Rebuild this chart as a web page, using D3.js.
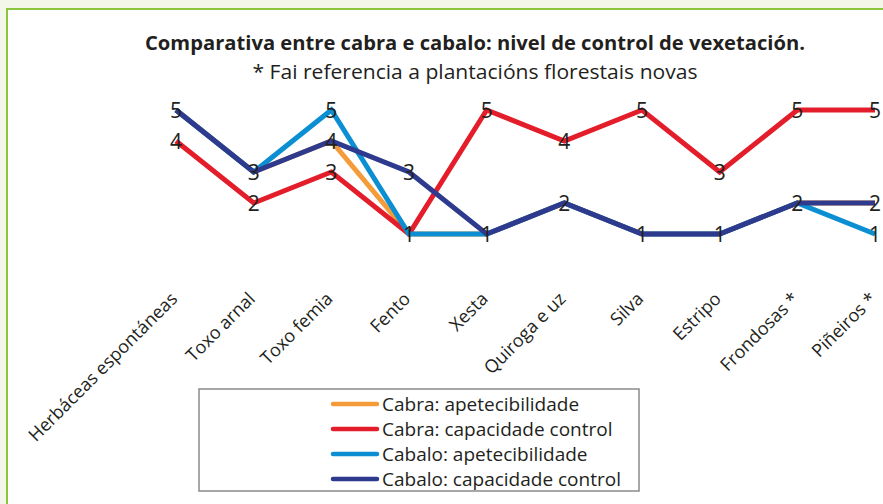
<!DOCTYPE html>
<html>
<head>
<meta charset="utf-8">
<script src="https://cdn.jsdelivr.net/npm/d3@7"></script>
<style>
  html, body { margin: 0; padding: 0; background: #f3f7e9; }
  svg { display: block; }
</style>
</head>
<body>
<svg id="chart" width="883" height="504"></svg>
<script>
// categorias
var categories = ['Herbáceas espontáneas', 'Toxo arnal', 'Toxo femia', 'Fento', 'Xesta',
    'Quiroga e uz', 'Silva', 'Estripo', 'Frondosas *', 'Piñeiros *'];

// series
var cabraApetec = [5, 3, 4, 1, 1, 2, 1, 1, 2, 2];
var cabraControl = [4, 2, 3, 1, 5, 4, 5, 3, 5, 5];
var cabaloApetec = [5, 3, 5, 1, 1, 2, 1, 1, 2, 1];
var cabaloControl = [5, 3, 4, 3, 1, 2, 1, 1, 2, 2];

var seriesNames = ['Cabra: apetecibilidade', 'Cabra: capacidade control',
    'Cabalo: apetecibilidade', 'Cabalo: capacidade control'];
var seriesColors = ['#f59c3a', '#e31d2a', '#0b8fd2', '#2e3a8d'];

var series = [cabraApetec, cabraControl, cabaloApetec, cabaloControl].map(function (v, i) {
    return { name: seriesNames[i], color: seriesColors[i], values: v };
});

var svg = d3.select('#chart');

// marco
svg.append('rect')
    .attr('x', 7)
    .attr('y', 9)
    .attr('width', 900)
    .attr('height', 520)
    .attr('fill', '#fff')
    .attr('stroke', '#8cc63f')
    .attr('stroke-width', 2);

// titulo (condensado co textLength)
svg.append('text')
    .attr('x', 475)
    .attr('y', 50)
    .attr('text-anchor', 'middle')
    .attr('font-family', 'Open Sans, sans-serif')
    .attr('font-weight', 'bold')
    .attr('font-size', 20)
    .attr('textLength', 660)
    .attr('lengthAdjust', 'spacingAndGlyphs')
    .attr('fill', '#231f20')
    .text('Comparativa entre cabra e cabalo: nivel de control de vexetación.');

svg.append('text')
    .attr('x', 475)
    .attr('y', 79)
    .attr('text-anchor', 'middle')
    .attr('font-family', 'Open Sans, sans-serif')
    .attr('font-size', 20)
    .attr('textLength', 445)
    .attr('lengthAdjust', 'spacingAndGlyphs')
    .attr('fill', '#231f20')
    .text('* Fai referencia a plantacións florestais novas');

var x = d3.scalePoint()
    .domain(categories)
    .range([176, 875]);

var y = d3.scaleLinear()
    .domain([1, 5])
    .range([234, 110]);

// eixo X (so etiquetas)
var xAxis = svg.append('g')
    .attr('transform', 'translate(0,300)')
    .call(d3.axisBottom(x).tickSize(0).tickPadding(0));

xAxis.select('.domain').remove();

xAxis.selectAll('text')
    .attr('font-family', 'Open Sans, sans-serif')
    .attr('font-size', 18)
    .attr('fill', '#231f20')
    .attr('text-anchor', 'end')
    .attr('dy', 0)
    .attr('y', 0)
    .attr('transform', 'translate(2,0) rotate(-45)');

// liñas
var line = d3.line()
    .x(function (d, i) { return x(categories[i]); })
    .y(function (d) { return y(d); });

svg.append('g')
    .selectAll('path')
    .data(series)
    .join('path')
    .attr('d', function (d) { return line(d.values); })
    .attr('fill', 'none')
    .attr('stroke', function (d) { return d.color; })
    .attr('stroke-width', 5)
    .attr('stroke-linejoin', 'miter');

// etiquetas de datos (unha por posicion)
var labels = [];
var seen = {};
series.forEach(function (s) {
    s.values.forEach(function (v, i) {
        var key = i + '_' + v;
        if (!seen[key]) {
            seen[key] = true;
            labels.push({ cat: categories[i], value: v });
        }
    });
});

svg.append('g')
    .selectAll('text')
    .data(labels)
    .join('text')
    .attr('x', function (d) { return x(d.cat); })
    .attr('y', function (d) { return y(d.value) + 8; })
    .attr('text-anchor', 'middle')
    .attr('font-family', 'Open Sans, sans-serif')
    .attr('font-size', 21)
    .attr('fill', '#231f20')
    .text(function (d) { return d.value; });

// lenda
var legend = svg.append('g')
    .attr('transform', 'translate(199,389)');

legend.append('rect')
    .attr('x', 0)
    .attr('y', 0)
    .attr('width', 440)
    .attr('height', 102)
    .attr('fill', '#fff')
    .attr('stroke', '#8a8a8a')
    .attr('stroke-width', 1.5);

var items = legend.selectAll('g.item')
    .data(series)
    .join('g')
    .attr('class', 'item')
    .attr('transform', function (d, i) { return 'translate(0,' + (15 + i * 25) + ')'; });

items.append('line')
    .attr('x1', 134)
    .attr('x2', 178)
    .attr('y1', 0)
    .attr('y2', 0)
    .attr('stroke', function (d) { return d.color; })
    .attr('stroke-width', 4.5)
    .attr('stroke-linecap', 'round');

items.append('text')
    .attr('x', 183)
    .attr('y', 7)
    .attr('font-family', 'Open Sans, sans-serif')
    .attr('font-size', 19)
    .attr('fill', '#231f20')
    .text(function (d) { return d.name; });
</script>
</body>
</html>
